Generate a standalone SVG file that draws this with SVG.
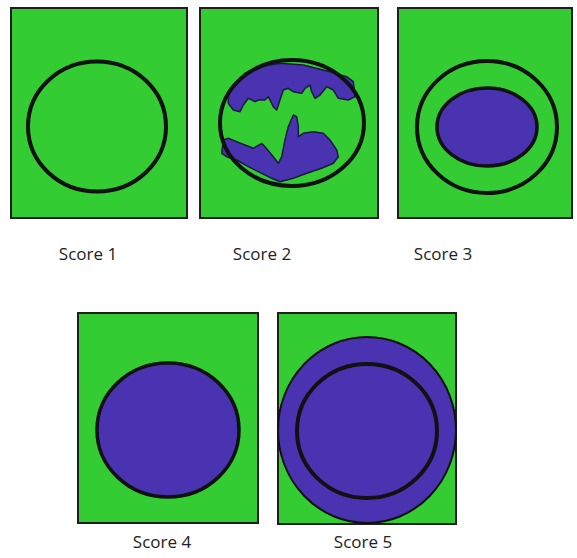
<svg xmlns="http://www.w3.org/2000/svg" width="577" height="558" viewBox="0 0 577 558">
<style>
.bg{fill:#33cc33;stroke:#1f1f1f;stroke-width:2}
.ring{fill:none;stroke:#111;stroke-width:4}
.dot{fill:#4a33b0;stroke:#111;stroke-width:3.5}
.blob{fill:#4a33b0;stroke:#1a1a40;stroke-width:1.5;stroke-linejoin:round}
.lbl{font-family:"Open Sans","Liberation Sans",sans-serif;font-size:17px;fill:#222;text-anchor:middle}
</style>
<rect width="577" height="558" fill="#fff"/>
<g id="score1">
<rect class="bg" x="11" y="8" width="176" height="210"/>
<ellipse class="ring" cx="97" cy="126.5" rx="69" ry="65"/>
<text class="lbl" x="88" y="260">Score 1</text>
</g>
<g id="score2">
<rect class="bg" x="200" y="8" width="178" height="210"/>
<path class="blob" d="M228.3,95 L233.3,85 L245,73.3 L260,66.7 L280,63.3 L303.3,65 L330,71.7 L346.7,76.7 L353.3,81.7 L355,96.7 L348.3,100 L338.3,98.3 L333.3,90 L326.7,86.7 L320,95 L315,98.3 L311.7,91.7 L310,85 L305,88.3 L301.7,93.3 L293.3,91.7 L288.3,88.3 L283.3,90 L280,100 L276.7,110 L273.3,106.7 L268.3,96.7 L265,100 L258.3,100 L255,101.7 L248.3,98.3 L243.3,105 L240,111.7 L233.3,110 L228.3,103.3 Z"/>
<path class="blob" d="M223.3,140 L228.3,138.3 L236.7,141.7 L245,145 L253.3,148.3 L261.7,143.3 L265,146.7 L273.3,156.7 L278.3,163.3 L281.7,156.7 L285,140 L288.3,126.7 L293.3,115 L296.7,116.7 L298.3,126.7 L298.3,136.7 L303.3,133.3 L313.3,131.7 L323.3,133.3 L330,140 L336.7,150 L338.3,156.7 L333.3,163.3 L321.7,168.3 L306.7,173.3 L293.3,178.3 L280,181.7 L271.7,178.3 L261.7,173.3 L248.3,166.7 L236.7,160 L226.7,156.7 L221.7,153.3 Z"/>
<ellipse class="ring" cx="292" cy="123" rx="72" ry="63"/>
<text class="lbl" x="262" y="260">Score 2</text>
</g>
<g id="score3">
<rect class="bg" x="398" y="8" width="174" height="210"/>
<ellipse class="ring" cx="487" cy="127" rx="70" ry="66"/>
<ellipse class="dot" cx="487" cy="127" rx="50" ry="39"/>
<text class="lbl" x="443" y="260">Score 3</text>
</g>
<g id="score4">
<rect class="bg" x="78" y="313" width="180" height="210"/>
<ellipse class="dot" cx="168" cy="430" rx="71" ry="67"/>
<text class="lbl" x="162" y="548">Score 4</text>
</g>
<g id="score5">
<rect class="bg" x="278" y="313" width="178" height="211"/>
<ellipse class="dot" cx="367" cy="430" rx="89" ry="93" style="stroke-width:2"/>
<ellipse class="ring" cx="367" cy="431" rx="70" ry="67"/>
<text class="lbl" x="363" y="548">Score 5</text>
</g>
</svg>
